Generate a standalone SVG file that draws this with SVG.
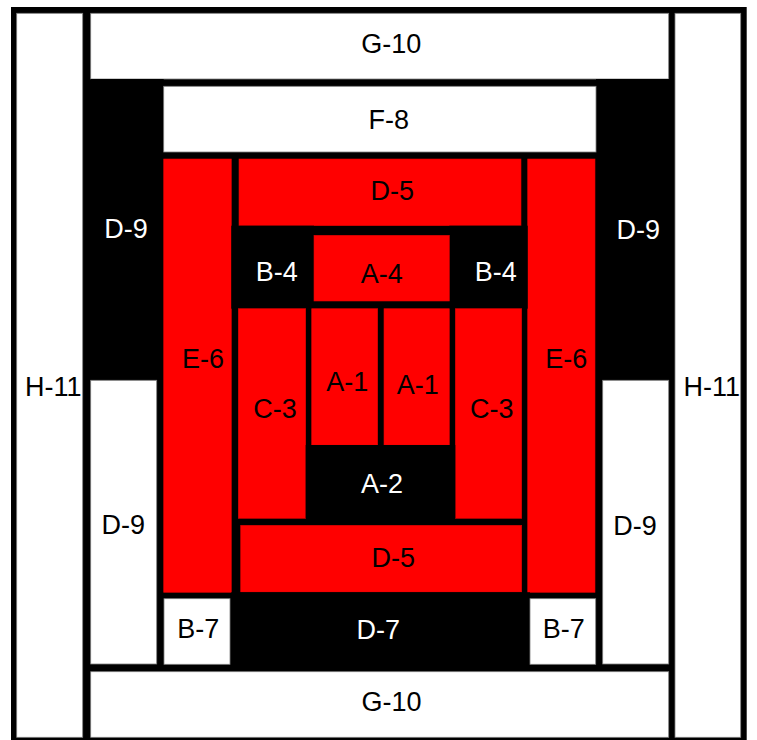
<svg xmlns="http://www.w3.org/2000/svg" width="757" height="740" viewBox="0 0 757 740">
<style>
.w{fill:#ffffff;stroke:#7f7f7f;stroke-width:0.8}
.r{fill:#ff0000;stroke:#e00000;stroke-width:0.6}
.k{fill:#000000}
text{font-family:"Liberation Sans",Arial,sans-serif;font-size:27px;text-anchor:middle}
.tb{fill:#000000}
.tw{fill:#ffffff}
</style>
<rect x="0" y="0" width="757" height="740" fill="#ffffff"/>
<rect id="frame" x="11" y="7" width="735.7" height="740" fill="#000000"/>
<g id="H-11-left"><rect class="w" x="16.7" y="13.3" width="66" height="724"/><text class="tb" x="53.3" y="395.7">H-11</text></g>
<g id="H-11-right"><rect class="w" x="675" y="13.3" width="65.7" height="724"/><text class="tb" x="711.7" y="395.7">H-11</text></g>
<g id="G-10-top"><rect class="w" x="90.7" y="13.3" width="578" height="65.7"/><text class="tb" x="391.3" y="53.3">G-10</text></g>
<g id="G-10-bottom"><rect class="w" x="90.7" y="671.7" width="578" height="65.6"/><text class="tb" x="391.5" y="710.7">G-10</text></g>
<g id="D-9-upper-left"><rect class="k" x="90.7" y="79" width="73" height="301.3"/><text class="tw" x="126" y="238.3">D-9</text></g>
<g id="D-9-upper-right"><rect class="k" x="596" y="79" width="73" height="301.3"/><text class="tw" x="638.3" y="239.3">D-9</text></g>
<g id="D-9-lower-left"><rect class="w" x="90.7" y="380.3" width="66" height="283.7"/><text class="tb" x="123.3" y="534.3">D-9</text></g>
<g id="D-9-lower-right"><rect class="w" x="602.7" y="380.3" width="66" height="283.7"/><text class="tb" x="635" y="535">D-9</text></g>
<g id="F-8"><rect class="w" x="163.7" y="86.3" width="432.3" height="65.7"/><text class="tb" x="388.8" y="129.3">F-8</text></g>
<g id="E-6-left"><rect class="r" x="163.7" y="159" width="67.6" height="433.3"/><text class="tb" x="203" y="368">E-6</text></g>
<g id="E-6-right"><rect class="r" x="527.7" y="159" width="67.3" height="433.3"/><text class="tb" x="566.3" y="368">E-6</text></g>
<g id="D-5-top"><rect class="r" x="239" y="159" width="282" height="66.7"/><text class="tb" x="392.2" y="200">D-5</text></g>
<g id="B-4-left"><rect class="k" x="231.3" y="225.7" width="82.7" height="83"/><text class="tw" x="276.7" y="281">B-4</text></g>
<g id="B-4-right"><rect class="k" x="449.3" y="225.7" width="78.4" height="83"/><text class="tw" x="495.7" y="281">B-4</text></g>
<g id="A-4"><rect class="r" x="314" y="235.3" width="135.3" height="65.7"/><text class="tb" x="381.7" y="283.3">A-4</text></g>
<g id="C-3-left"><rect class="r" x="238.3" y="308.7" width="67.4" height="209.6"/><text class="tb" x="275" y="417.5">C-3</text></g>
<g id="A-1-left"><rect class="r" x="311.7" y="308.7" width="66" height="136.3"/><text class="tb" x="347.2" y="390.7">A-1</text></g>
<g id="A-1-right"><rect class="r" x="384" y="308.7" width="65.3" height="136.3"/><text class="tb" x="417.8" y="394">A-1</text></g>
<g id="C-3-right"><rect class="r" x="455.3" y="308.7" width="66.4" height="209.6"/><text class="tb" x="491.7" y="417.5">C-3</text></g>
<g id="A-2"><rect class="k" x="305.7" y="445" width="149.6" height="73.3"/><text class="tw" x="382" y="493.3">A-2</text></g>
<g id="D-5-bottom"><rect class="r" x="240.7" y="525.3" width="281" height="66.7"/><text class="tb" x="393.3" y="566.7">D-5</text></g>
<g id="D-7"><rect class="k" x="231.3" y="592.3" width="298.7" height="72"/><text class="tw" x="378.3" y="639.3">D-7</text></g>
<g id="B-7-left"><rect class="w" x="164" y="598.7" width="66" height="65.6"/><text class="tb" x="198.3" y="637.7">B-7</text></g>
<g id="B-7-right"><rect class="w" x="530" y="598.7" width="65.7" height="65.6"/><text class="tb" x="563.8" y="638">B-7</text></g>
<g id="connectors"></g>
</svg>
